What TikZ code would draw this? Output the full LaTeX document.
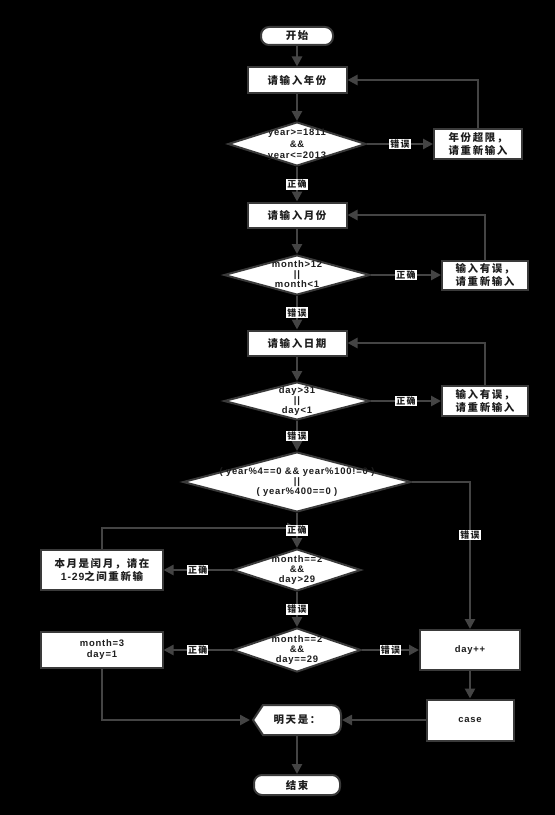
\documentclass[tikz,border=0pt]{standalone}
\usepackage{fontspec}
\setmainfont{Liberation Sans}
\newfontfamily\zh[LetterSpace=15]{Noto Sans CJK SC}
\newfontfamily\en[LetterSpace=8]{Liberation Sans}
\usetikzlibrary{shapes.geometric,arrows.meta,calc}
\definecolor{bc}{RGB}{58,58,58}
\definecolor{lc}{RGB}{68,68,68}
\definecolor{tc}{RGB}{30,30,30}
\pgfdeclarelayer{bglayer}
\pgfdeclarelayer{shplayer}
\pgfsetlayers{bglayer,shplayer,main}
\newcommand\dtxt[2]{\raisebox{-3bp}[0pt][0pt]{\makebox[0pt]{\fontsize{9.5}{#1}\selectfont\begin{tabular}{@{}c@{}}#2\end{tabular}}}}
\tikzset{
  base/.style={draw=bc, line width=2bp, fill=white, text=tc, align=center, inner sep=0pt,
    font=\zh\bfseries\fontsize{10.5}{13}\selectfont},
  proc/.style 2 args={base, rectangle, minimum width=#1, minimum height=#2},
  term/.style 2 args={base, rectangle, rounded corners=8bp, minimum width=#1, minimum height=#2},
  dec/.style 2 args={base, diamond, minimum width=#1, minimum height=#2, font=\en\bfseries},
  arr/.style={draw=lc, line width=2.8bp, -{Triangle[width=10bp,length=10bp]}},
  lab/.style={fill=white, inner sep=1bp, text=tc, font=\zh\bfseries\fontsize{9}{10}\selectfont}
}
\begin{document}
\begin{tikzpicture}[x=1bp,y=-1bp]
\useasboundingbox (0,0) rectangle (555,815);
\begin{pgfonlayer}{bglayer}
\fill[black] (0,0) rectangle (555,815);
\end{pgfonlayer}

% nodes
\node[term={72bp}{18bp}] (start) at (297,36) {开始};
\node[proc={99bp}{25bp}] (in1) at (297,80) {请输入年份};
\node[dec={138bp}{44bp}] (d1) at (297,144) {\dtxt{11.5}{year>=1811\\\&\&\\year<=2013}};
\node[proc={88bp}{30bp}] (err1) at (478,144) {年份超限，\\请重新输入};
\node[proc={99bp}{25bp}] (in2) at (297,215) {请输入月份};
\node[dec={146bp}{40bp}] (d2) at (297,275) {\dtxt{10}{month>12\\||\\month<1}};
\node[proc={86bp}{29bp}] (err2) at (485,275) {输入有误，\\请重新输入};
\node[proc={99bp}{25bp}] (in3) at (297,343) {请输入日期};
\node[dec={146bp}{38bp}] (d3) at (297,401) {\dtxt{10}{day>31\\||\\day<1}};
\node[proc={86bp}{30bp}] (err3) at (485,401) {输入有误，\\请重新输入};
\node[dec={228bp}{60bp}] (d4) at (297,482) {\dtxt{10}{( year\%4==0 \&\& year\%100!=0 )\\||\\( year\%400==0 )}};
\node[dec={128bp}{42bp}] (d5) at (297,570) {\dtxt{10}{month==2\\\&\&\\day>29}};
\node[proc={121bp}{40bp}] (leap) at (102,570) {本月是闰月，请在\\{\en 1-29}之间重新输};
\node[dec={128bp}{44bp}] (d6) at (297,650) {\dtxt{10}{month==2\\\&\&\\day==29}};
\node[proc={121bp}{36bp}, font=\en\bfseries\fontsize{9.5}{11}\selectfont] (m3) at (102,650) {month=3\\day=1};
\node[proc={100bp}{40bp}, font=\en\bfseries\fontsize{9.5}{11}\selectfont] (dpp) at (470,650) {day++};
\node[proc={87bp}{41bp}, font=\en\bfseries\fontsize{9.5}{11}\selectfont] (case) at (470,720) {case};
\node[base, draw=none, fill=none, rectangle, minimum width=88bp, minimum height=30bp] (tm) at (297,720) {明天是：};
\node[term={86bp}{20bp}] (end) at (297,785) {结束};
\coordinate (m1) at (297,528);

\begin{pgfonlayer}{shplayer}
\filldraw[draw=bc, line width=2bp, fill=white]
  (253,720) -- (263,705) -- (331,705)
  .. controls (337,705) and (341,709) .. (341,715) -- (341,725)
  .. controls (341,731) and (337,735) .. (331,735) -- (263,735) -- cycle;
\end{pgfonlayer}

% connectors
\draw[arr] (start) -- (in1);
\draw[arr] (in1) -- (d1);
\draw[arr] (d1.east) -- node[lab] {错误} (err1.west);
\draw[arr] (err1.north) |- (in1.east);
\draw[arr] (d1.south) -- node[lab] {正确} (in2.north);
\draw[arr] (in2) -- (d2);
\draw[arr] (d2.east) -- node[lab] {正确} (err2.west);
\draw[arr] (err2.north) |- (in2.east);
\draw[arr] (d2.south) -- node[lab] {错误} (in3.north);
\draw[arr] (in3) -- (d3);
\draw[arr] (d3.east) -- node[lab] {正确} (err3.west);
\draw[arr] (err3.north) |- (in3.east);
\draw[arr] (d3.south) -- node[lab] {错误} (d4.north);
\draw[arr] (d4.east) -| node[lab, pos=0.68] {错误} (dpp.north);
\draw[arr] (leap.north) |- (m1);
\draw[arr] (d4.south) -- node[lab] {正确} (d5.north);
\draw[arr] (d5.west) -- node[lab] {正确} (leap.east);
\draw[arr] (d5.south) -- node[lab] {错误} (d6.north);
\draw[arr] (d6.west) -- node[lab] {正确} (m3.east);
\draw[arr] (d6.east) -- node[lab] {错误} (dpp.west);
\draw[arr] (dpp) -- (case);
\draw[arr] (case.west) -- (tm.east);
\draw[arr] (m3.south) |- ([xshift=-2bp]tm.west);
\draw[arr] (tm.south) -- (end.north);
\end{tikzpicture}
\end{document}
